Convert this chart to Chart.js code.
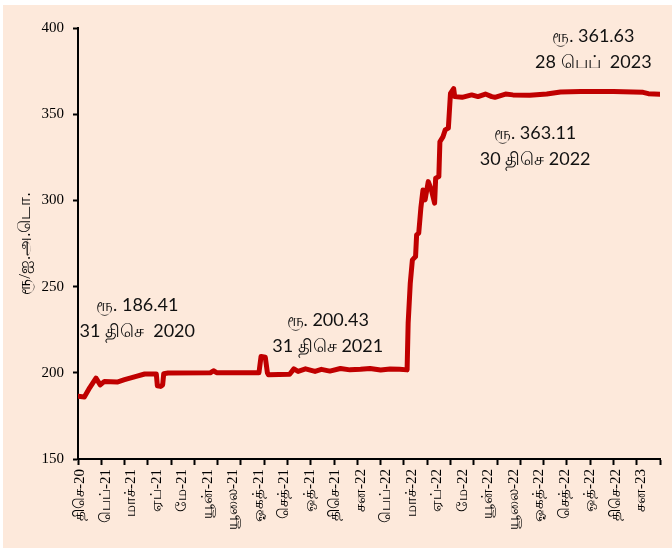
<!DOCTYPE html>
<html>
<head>
<meta charset="utf-8">
<script src="https://cdn.jsdelivr.net/npm/chart.js@4"></script>
<style>
  html, body { margin: 0; padding: 0; background: #ffffff; }
  #wrap { width: 672px; height: 548px; position: relative; }
</style>
</head>
<body>
<div id="wrap"><canvas id="line"></canvas></div>
<script>
// trading-day index from 31 Dec 2020, and LKR per USD
const tradeDays = [0, 6, 11, 17, 21, 25, 37, 44, 55, 63, 74, 75, 78, 80, 81, 85,
  125, 128, 131, 171, 173, 177, 179, 180, 200, 204, 208, 215, 224, 230,
  238, 248, 257, 267, 276, 286, 295, 304, 311, 312, 314, 316, 319, 320,
  322, 324, 326, 328, 331, 334, 337, 338, 341, 342, 345, 347, 350, 352,
  355, 356, 363, 372, 378, 385, 391, 394, 404, 411, 427, 443, 456, 475,
  506, 534, 539, 550];
const usdRate = [186.4, 186.0, 191.3, 196.9, 193.0, 195.0, 194.6, 196.0, 197.9, 199.3, 199.3, 192.5, 192.1, 193.0, 199.5, 199.9,
  200.0, 201.2, 200.1, 200.0, 209.5, 209.0, 200.0, 198.8, 199.2, 202.3, 200.8, 202.3, 200.8, 202.0,
  201.0, 202.5, 201.7, 202.0, 202.5, 201.6, 202.2, 202.1, 201.7, 228.8, 252.0, 265.5, 267.4, 280.0,
  281.0, 295.5, 306.0, 300.3, 310.9, 306.0, 298.4, 312.9, 313.8, 334.0, 337.0, 340.9, 341.9, 362.1,
  364.8, 360.2, 359.8, 361.2, 360.2, 361.7, 360.2, 359.8, 361.7, 361.2, 361.0, 361.7, 362.9, 363.1,
  363.1, 362.7, 361.9, 361.6];

const monthLabels = ['திசெ-20', 'பெப்-21', 'மாச்-21', 'ஏப்-21', 'மே-21', 'யூன்-21', 'யூலை-21',
  'ஓகத்-21', 'செத்-21', 'ஒத்-21', 'திசெ-21', 'சன-22', 'பெப்-22', 'மாச்-22', 'ஏப்-22', 'மே-22',
  'யூன்-22', 'யூலை-22', 'ஓகத்-22', 'செத்-22', 'ஒத்-22', 'திசெ-22', 'சன-23'];
const labelStart = 2;
const labelStep = 24.1;
const tickStep = 22;
const lastDay = 550;

// call-out texts, anchored in data units (day index, rate)
const noteX = [56, 236, 432, 487];
const noteY = [239.4, 230.7, 339.1, 395.4];
const noteLines = [
  ['ரூ. 186.41', '31 திசெ  2020'],
  ['ரூ. 200.43', '31 திசெ 2021'],
  ['ரூ. 363.11', '30 திசெ 2022'],
  ['ரூ. 361.63', '28 பெப்  2023']
];

const points = tradeDays.map((d, i) => ({ x: d, y: usdRate[i] }));

const paper = {
  id: 'paper',
  beforeDraw(chart) {
    const ctx = chart.ctx;
    ctx.save();
    ctx.fillStyle = '#ffffff';
    ctx.fillRect(0, 0, chart.width, chart.height);
    ctx.fillStyle = '#FDE9DB';
    ctx.fillRect(3, 5, chart.width - 3, chart.height - 5);
    ctx.restore();
  }
};

const notes = {
  id: 'notes',
  afterDatasetsDraw(chart) {
    const ctx = chart.ctx;
    const xs = chart.scales.x, ys = chart.scales.y;
    ctx.save();
    ctx.font = '18px Lato, "Noto Sans", sans-serif';
    ctx.fillStyle = '#111111';
    ctx.textAlign = 'center';
    ctx.textBaseline = 'middle';
    noteLines.forEach((lines, i) => {
      const px = xs.getPixelForValue(noteX[i]);
      const py = ys.getPixelForValue(noteY[i]);
      lines.forEach((t, j) => ctx.fillText(t, px, py + j * 26));
    });
    ctx.restore();
  }
};

let ctx = document.getElementById('line').getContext('2d');
ctx.canvas.width = 672;
ctx.canvas.height = 548;

let config = {
  type: 'line',
  data: {
    datasets: [
      {
        data: points,
        borderColor: '#C00000',
        borderWidth: 5,
        borderJoinStyle: 'round',
        borderCapStyle: 'round',
        pointRadius: 0,
        tension: 0,
        fill: false
      }
    ]
  },
  options: {
    responsive: false,
    animation: false,
    events: [],
    layout: { padding: { left: 0, top: 28, right: 12, bottom: 0 } },
    plugins: { legend: { display: false }, tooltip: { enabled: false } },
    scales: {
      x: {
        type: 'linear',
        min: 0,
        max: lastDay,
        afterBuildTicks: (axis) => {
          const t = [];
          for (let v = 0; v <= lastDay; v += tickStep) t.push({ value: v });
          axis.ticks = t;
        },
        afterFit: (axis) => { axis.height = 6; },
        grid: { drawOnChartArea: false, drawTicks: true, tickLength: 6, tickWidth: 2, color: '#000000' },
        border: { display: true, color: '#000000', width: 2 },
        ticks: { display: false, autoSkip: false }
      },
      xLabels: {
        type: 'linear',
        position: 'bottom',
        weight: 1,
        min: 0,
        max: lastDay,
        afterBuildTicks: (axis) => {
          axis.ticks = monthLabels.map((m, i) => ({ value: labelStart + i * labelStep }));
        },
        afterFit: (axis) => { axis.height = 83; },
        grid: { display: false, drawTicks: false },
        border: { display: false },
        ticks: {
          autoSkip: false,
          minRotation: 90,
          maxRotation: 90,
          padding: 4,
          color: '#000000',
          font: { family: '"Liberation Serif", serif', size: 15 },
          callback: (v, i) => monthLabels[i]
        }
      },
      y: {
        min: 150,
        max: 400,
        afterFit: (axis) => { axis.width = 78; },
        grid: { drawOnChartArea: false, tickLength: 5, tickWidth: 2, color: '#000000' },
        border: { color: '#000000', width: 2 },
        ticks: {
          stepSize: 50,
          padding: 9,
          color: '#000000',
          font: { family: '"Liberation Serif", serif', size: 15 }
        },
        title: {
          display: true,
          text: 'ரூ/ஐ.அ.டொ.',
          color: '#000000',
          padding: { top: 15, bottom: 0 },
          font: { family: '"Liberation Serif", serif', size: 17 }
        }
      }
    }
  },
  plugins: [paper, notes]
};

window.myLine = new Chart(ctx, config);
</script>
</body>
</html>
